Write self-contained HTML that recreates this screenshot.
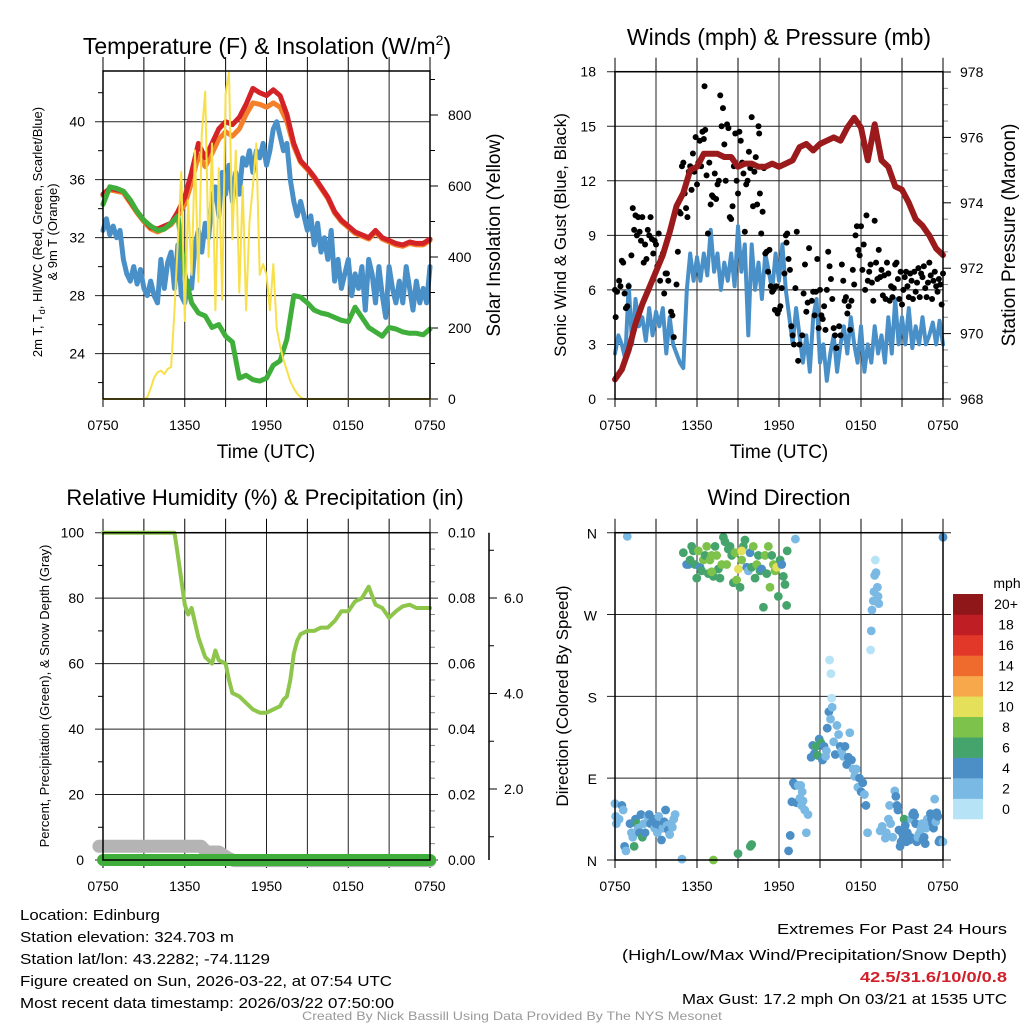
<!DOCTYPE html>
<html><head><meta charset="utf-8">
<style>
html,body{margin:0;padding:0;background:#fff;}
svg{display:block;font-family:"Liberation Sans",Arial,sans-serif;}
</style></head>
<body>
<svg id="root" width="1024" height="1024" viewBox="0 0 1024 1024" xmlns="http://www.w3.org/2000/svg">
<rect width="1024" height="1024" fill="#fff"/>
<g id="p1"></g>
<g id="p2"></g>
<g id="p3"></g>
<g id="p4"></g>
<g id="txt">
<text x="20" y="920" font-size="15" textLength="140" lengthAdjust="spacingAndGlyphs">Location: Edinburg</text>
<text x="20" y="942" font-size="15" textLength="214" lengthAdjust="spacingAndGlyphs">Station elevation: 324.703 m</text>
<text x="20" y="964" font-size="15" textLength="250" lengthAdjust="spacingAndGlyphs">Station lat/lon: 43.2282; -74.1129</text>
<text x="20" y="986" font-size="15" textLength="372" lengthAdjust="spacingAndGlyphs">Figure created on Sun, 2026-03-22, at 07:54 UTC</text>
<text x="20" y="1008" font-size="15" textLength="374" lengthAdjust="spacingAndGlyphs">Most recent data timestamp: 2026/03/22 07:50:00</text>
<text x="1007" y="934" font-size="15" text-anchor="end" textLength="230" lengthAdjust="spacingAndGlyphs">Extremes For Past 24 Hours</text>
<text x="1007" y="960" font-size="15" text-anchor="end" textLength="385" lengthAdjust="spacingAndGlyphs">(High/Low/Max Wind/Precipitation/Snow Depth)</text>
<text x="1007" y="982" font-size="15" font-weight="bold" fill="#d0202a" text-anchor="end" textLength="147" lengthAdjust="spacingAndGlyphs">42.5/31.6/10/0/0.8</text>
<text x="1007" y="1004" font-size="15" text-anchor="end" textLength="325" lengthAdjust="spacingAndGlyphs">Max Gust: 17.2 mph On 03/21 at 1535 UTC</text>
<text x="512" y="1020" font-size="12" fill="#999" text-anchor="middle" textLength="420" lengthAdjust="spacingAndGlyphs">Created By Nick Bassill Using Data Provided By The NYS Mesonet</text>
</g>
</svg>
<script>
// ---------- DATA ----------
const xTickLabels = ["0750","1350","1950","0150","0750"];
const tempTicks = [24,28,32,36,40];
const solarTicks = [0,200,400,600,800];
const windTicks = [0,3,6,9,12,15,18];
const presTicks = [968,970,972,974,976,978];
const rhTicks = [0,20,40,60,80,100];
const precipTickLabels = ["0.00","0.02","0.04","0.06","0.08","0.10"];
const snowTicks = [2,4,6];
const dirLabels = ["N","E","S","W","N"];
const speedBinLabels = ["0","2","4","6","8","10","12","14","16","18","20+"];
const speedColors = ["#b6e3f6","#7ab9e3","#4b8fc6","#45a46b","#7dc24a","#e4e05a","#f6a84a","#ef6a2d","#e1382a","#c01e25","#8f1719"];

// half-hourly (0..24h)
const temp2m = [35.0,35.4,35.3,35.2,34.5,33.8,33.2,32.7,32.6,32.8,33.0,33.8,34.8,36.5,38.5,37.5,38.5,39.5,40.0,39.8,40.3,41.2,42.3,42.0,41.8,42.2,41.8,40.5,38.5,37.3,36.8,36.2,35.5,34.8,33.8,33.2,32.8,32.4,32.2,32.0,32.5,32.0,31.8,31.6,31.5,31.7,31.6,31.6,31.9];
const temp9m = [34.9,35.3,35.2,35.1,34.4,33.7,33.1,32.6,32.4,32.6,32.9,33.5,34.3,35.8,37.7,36.9,37.8,38.8,39.3,39.0,39.5,40.5,41.3,41.2,41.0,41.3,41.0,40.0,38.3,37.2,36.7,36.1,35.4,34.7,33.7,33.1,32.7,32.3,32.1,31.9,32.4,31.9,31.7,31.5,31.4,31.6,31.5,31.5,31.8];
const dewpoint = [34.3,35.5,35.4,35.2,34.6,33.8,33.2,32.8,32.5,32.6,33.0,33.5,29.5,27.5,26.8,26.6,25.8,26.0,25.2,24.8,22.3,22.5,22.2,22.1,22.3,23.2,23.5,25.0,28.0,27.9,27.5,27.0,26.8,26.7,26.5,26.3,26.2,27.2,26.5,25.8,25.5,25.2,25.8,25.7,25.5,25.4,25.4,25.3,25.7];
// quarter-hourly (0..24h)
const windChill = [32.5,33.3,32.2,32.8,32.0,32.5,30.5,29.5,29.0,30.0,28.8,29.8,28.5,28.0,29.0,28.0,27.5,30.5,28.5,30.3,31.0,28.5,31.5,28.0,27.5,29.0,28.5,31.5,32.5,31.0,33.0,32.0,34.5,35.5,33.5,36.5,35.0,37.0,34.5,36.5,35.0,37.5,37.0,38.0,36.5,38.0,37.5,38.5,37.0,38.0,39.5,40.0,39.0,38.0,38.5,36.0,34.5,33.5,34.5,33.5,32.5,33.5,31.5,33.0,31.0,32.0,30.5,32.5,29.0,30.5,28.5,29.5,30.5,28.0,29.5,28.5,30.0,27.0,30.5,29.5,27.5,30.0,28.0,26.5,30.0,28.5,27.5,29.0,27.5,30.0,28.5,27.0,29.0,27.5,28.5,27.5,30.0];
const solar = [0,0,0,0,0,0,0,0,0,0,0,0,0,5,30,60,75,80,70,85,90,250,450,640,220,560,350,700,330,750,866,400,720,250,650,280,860,920,450,700,300,600,250,500,600,720,350,380,350,250,380,200,150,110,80,50,30,15,5,0,0,0,0,0,0,0,0,0,0,0,0,0,0,0,0,0,0,0,0,0,0,0,0,0,0,0,0,0,0,0,0,0,0,0,0,0,0];
const pressure = [968.6,968.9,969.5,970.3,970.9,971.4,971.9,972.4,973.1,973.9,974.3,975.0,975.1,975.5,975.5,975.5,975.4,975.4,975.1,975.2,975.2,975.1,975.1,975.2,975.1,975.2,975.3,975.7,975.8,975.6,975.8,975.9,976.0,975.9,976.3,976.6,976.3,975.3,976.4,975.3,975.1,974.5,974.4,974.0,973.5,973.3,973.0,972.6,972.4];
const sonicWind = [2.5,3.5,3.0,2.2,6.3,3.0,5.5,4.0,4.5,3.2,5.0,3.5,4.8,4.0,5.0,2.5,4.5,3.0,2.5,2.0,1.7,6.0,8.0,6.5,7.8,6.5,8.0,6.8,9.3,7.0,8.0,6.0,7.5,6.5,8.0,6.2,9.5,7.0,8.5,3.5,8.5,6.0,7.5,5.5,8.0,7.0,6.0,8.0,6.5,8.5,6.0,4.5,3.0,5.0,3.5,2.0,3.5,1.5,4.5,5.5,2.0,3.0,1.0,2.5,3.5,1.5,3.0,4.0,2.5,4.5,3.0,2.0,4.0,1.5,3.0,2.0,4.0,2.5,3.5,2.0,4.5,2.5,5.5,3.0,4.5,3.0,5.0,2.8,4.0,3.0,4.5,3.0,3.5,4.2,3.0,4.3,3.0];
const gustHours = [0.0,0.05,0.15,0.3,0.4,0.5,0.6,0.7,0.8,0.9,1.0,1.2,1.3,1.4,1.5,1.6,1.7,1.8,1.9,2.0,2.1,2.2,2.3,2.4,2.5,2.6,2.7,2.8,2.9,3.0,3.1,3.2,3.3,3.4,3.5,3.6,3.7,3.8,3.9,4.1,4.2,4.3,4.5,4.6,4.7,4.8,4.9,5.0,5.1,5.2,5.3,5.4,5.5,5.6,5.7,5.8,5.9,6.0,6.1,6.2,6.3,6.4,6.5,6.55,6.6,6.7,6.8,6.9,7.0,7.1,7.2,7.3,7.4,7.5,7.6,7.7,7.8,7.9,8.0,8.1,8.2,8.3,8.4,8.5,8.6,8.7,8.8,8.9,9.0,9.1,9.2,9.3,9.4,9.5,9.6,9.7,9.8,9.9,10.0,10.1,10.2,10.3,10.4,10.5,10.55,10.6,10.7,10.8,10.9,11.0,11.1,11.2,11.3,11.4,11.5,11.6,11.7,11.8,11.9,12.0,12.1,12.2,12.4,12.5,12.55,12.6,12.7,12.8,12.9,13.0,13.1,13.2,13.3,13.4,13.5,13.7,13.8,13.9,14.0,14.1,14.2,14.4,14.5,14.6,14.7,14.8,14.9,15.0,15.1,15.2,15.3,15.4,15.5,15.6,15.7,15.8,15.9,16.0,16.1,16.2,16.4,16.5,16.6,16.7,16.8,16.9,17.0,17.1,17.2,17.3,17.4,17.5,17.6,17.7,17.8,17.9,18.0,18.1,18.2,18.3,18.4,18.5,18.6,18.7,18.8,18.9,19.0,19.1,19.2,19.3,19.4,19.5,19.6,19.7,19.8,19.9,20.0,20.1,20.2,20.3,20.4,20.5,20.6,20.7,20.8,20.9,21.0,21.1,21.2,21.3,21.4,21.5,21.6,21.7,21.8,21.9,22.0,22.1,22.2,22.3,22.4,22.5,22.6,22.7,22.8,22.9,23.0,23.1,23.2,23.3,23.4,23.5,23.6,23.7,23.8,23.9,24.0];
const gustValues = [6.0,4.5,5.9,6.5,6.2,7.6,7.5,5.8,5.0,5.1,6.2,7.9,10.5,9.3,10.1,9.0,10.0,9.2,8.7,10.0,7.5,8.5,7.7,9.3,9.0,10.0,8.8,8.0,8.7,8.5,7.3,9.1,6.5,7.8,8.0,5.8,6.9,6.9,6.5,4.8,4.6,3.4,6.3,8.1,10.3,10.2,12.8,13.0,11.3,10.5,10.0,12.5,12.8,11.5,13.5,12.5,14.4,11.8,13.0,14.2,12.8,14.7,14.3,17.2,14.8,12.3,9.1,13.0,10.7,11.2,11.1,12.4,11.0,11.8,12.0,16.7,15.0,16.0,14.0,12.0,15.1,14.9,10.0,9.9,10.6,12.8,14.6,12.0,11.3,14.7,14.2,13.0,12.4,9.2,11.8,12.0,13.6,12.7,15.5,10.6,12.5,13.3,10.7,15.0,14.6,11.3,9.1,10.3,12.7,8.0,8.1,7.0,8.2,6.2,5.9,6.0,4.9,6.2,4.7,4.9,5.1,6.1,6.9,9.0,8.6,9.1,7.7,7.1,4.0,3.5,3.0,6.1,9.2,2.1,3.0,3.5,5.8,7.4,4.8,5.3,8.3,5.4,5.9,4.6,5.9,7.7,3.9,6.0,4.6,4.4,5.1,3.8,6.0,8.1,7.3,6.6,5.5,3.9,3.5,2.8,4.0,3.5,7.4,6.5,5.4,5.6,4.7,5.1,3.8,5.4,7.1,6.3,9.0,9.5,8.2,7.9,9.5,7.1,8.5,6.0,10.1,6.5,7.0,7.4,6.4,5.4,9.8,7.5,6.6,8.2,6.7,7.1,5.7,6.8,5.5,7.5,6.9,5.4,6.2,5.6,6.1,7.4,7.5,6.6,5.5,7.0,5.2,6.0,6.7,7.0,6.2,5.6,6.9,6.5,5.5,7.0,5.9,6.4,7.2,5.6,6.9,6.7,7.3,6.1,5.6,6.4,7.5,6.8,5.5,6.5,7.0,6.2,5.9,6.6,6.3,5.2,6.9];
const rhHours = [0,5.0,5.25,5.5,6.0,6.25,6.5,7.0,7.25,7.5,8.0,8.25,8.5,9.0,9.25,9.5,10.0,10.5,11.0,11.5,12.0,12.5,13.0,13.25,13.5,13.75,14.0,14.25,14.5,15.0,15.5,16.0,16.5,17.0,17.5,18.0,18.5,19.0,19.5,20.0,20.5,21.0,21.5,22.0,22.5,23.0,23.5,24.0];
const rhValues = [100,100,100,93,78,75,77,68,65,62,60,64,61,60,55,51,50,48,46,45,45,46,47,49,50,55,63,67,69,70,70,71,71,73,76,76,79,80,83.5,78,77,74,76,77.5,78,77,77,77];
const snowHours = [-0.3,7.2,7.6,8.5,9.2,9.6,10.5,11.0,11.3,24];
const snowDepth = [0.8,0.8,0.68,0.68,0.55,0.5,0.5,0.5,0.5,0.5];
const precipHours = [0,24];
const precipValues = [0,0];
const dirHours = [0.0,0.05,0.1,0.3,0.5,0.6,0.7,0.8,1.1,1.2,1.3,1.4,1.5,1.6,1.7,1.8,1.9,2.0,2.1,2.2,2.4,2.5,2.6,2.8,2.9,3.0,3.1,3.2,3.3,3.4,3.5,3.6,3.7,3.8,3.9,4.0,4.1,4.2,4.3,4.4,4.9,0.9,
5.0,5.24,5.37,5.49,5.61,5.73,5.85,5.98,6.1,6.22,6.34,6.46,6.59,6.71,6.83,6.95,7.07,7.2,7.32,7.44,7.56,7.68,7.81,7.93,8.05,8.17,8.29,8.42,8.54,8.66,8.78,8.9,9.03,9.15,9.27,9.39,9.51,9.64,9.76,9.88,10.0,10.12,10.25,10.37,10.49,10.61,10.73,10.86,10.98,11.1,11.22,11.34,11.47,11.59,11.71,11.83,11.95,12.08,12.2,12.32,12.44,12.56,12.6,9.27,7.07,
7.2,9.0,9.9,10.0,13.2,
12.7,12.82,12.94,13.05,13.17,13.29,13.41,13.53,13.59,13.64,13.7,13.76,13.88,14.0,14.12,14.35,14.47,14.59,14.71,14.83,14.94,15.06,15.18,15.3,15.41,15.47,15.53,15.65,15.77,15.89,16.0,16.12,16.24,16.36,16.48,16.59,16.71,16.83,16.95,17.07,17.18,17.3,17.42,17.54,17.66,17.77,17.89,18.01,18.13,18.25,18.36,18.48,15.7,15.8,15.85,18.7,18.75,18.8,18.9,18.95,19.0,19.05,19.1,19.2,19.25,19.3,
19.4,19.55,19.78,19.86,20.01,20.09,20.17,20.32,20.47,20.55,20.63,20.7,20.78,20.86,20.93,21.01,21.09,21.16,21.24,21.32,21.39,21.55,21.62,21.7,21.78,21.85,21.93,22.0,22.08,22.16,22.23,22.31,22.39,22.47,22.54,22.62,22.7,22.77,22.85,22.93,23.08,23.16,23.24,23.31,23.39,23.47,23.54,23.62,23.7,23.77,24.0,24.0];
const dirDegrees = [62,48,40,45,60,55,15,10,40,30,25,15,45,40,35,30,50,25,40,30,48,50,40,45,35,40,30,48,38,22,35,42,55,38,33,28,40,36,45,50,1,356,
338,325,325,330,345,340,325,310,340,322,318,330,335,345,315,330,335,312,345,335,320,310,325,355,350,325,342,345,335,305,338,308,320,300,330,345,352,322,318,338,322,345,310,325,335,318,320,278,335,315,345,300,335,325,318,322,290,330,325,312,303,280,340,340,317,
0,7,15,17,353,
10,27,64,85,82,63,82,68,82,60,75,65,55,30,50,113,126,117,125,115,133,129,110,125,114,120,145,163,155,168,130,116,148,138,125,120,114,125,105,113,140,110,100,92,100,80,90,75,85,72,60,30,220,205,178,231,252,275,285,295,313,330,316,300,290,282,
32,37,24,30,45,60,40,25,76,70,60,55,33,15,20,30,25,45,38,20,30,22,25,45,50,52,49,40,20,25,28,30,35,40,22,25,18,35,45,38,51,45,40,35,67,42,52,48,20,22,355,20];
const dirSpeeds = [3,3,3,3,5,3,5,3,5,3,3,7,5,7,3,5,5,7,3,5,3,5,5,5,3,5,3,3,5,5,3,5,5,3,5,3,3,3,3,3,3,3,
7,5,5,7,7,7,7,7,9,5,7,9,7,9,7,9,9,7,7,9,7,7,9,7,7,9,7,7,7,7,9,9,11,7,9,7,7,5,3,5,7,9,7,9,7,7,5,7,9,7,9,9,7,9,9,11,7,7,5,7,7,7,7,11,9,
9,7,7,7,3,
5,5,5,5,5,5,3,3,3,3,3,3,3,3,3,5,5,5,7,7,5,7,5,5,3,3,5,5,3,3,3,5,3,3,5,3,3,5,5,5,3,5,3,3,3,3,5,5,5,3,5,3,1,1,1,1,3,3,3,3,3,1,3,3,3,3,
3,3,3,3,3,3,3,3,3,5,5,5,5,5,5,5,5,7,5,5,5,5,5,3,5,5,5,5,5,3,3,3,3,3,5,5,5,3,3,3,5,5,5,5,3,3,5,5,5,5,5,3];

// ---------- DRAWING ----------
const NS = "http://www.w3.org/2000/svg";
function mk(parent, tag, attrs, text){
  const e = document.createElementNS(NS, tag);
  for (const k in attrs) e.setAttribute(k, attrs[k]);
  if (text !== undefined) e.textContent = text;
  parent.appendChild(e);
  return e;
}
function linScale(d0,d1,r0,r1){ return v => r0 + (v-d0)*(r1-r0)/(d1-d0); }
function pathD(xs, ys, sx, sy){ return xs.map((x,i)=>(i?"L":"M")+sx(x).toFixed(1)+","+sy(ys[i]).toFixed(1)).join(""); }
function seq(n, step){ const a=[]; for(let i=0;i<n;i++) a.push(i*step); return a; }
const halfHours = seq(49, 0.5);
const quarterHours = seq(97, 0.25);

function frame(g, L, R, T, B){
  const sx = linScale(0,24,L,R);
  for (let h=3; h<24; h+=3){
    const gl = mk(g,"line",{x1:sx(h),x2:sx(h),y1:T,y2:B,stroke:"#222","stroke-width":1});
    
    
  }
  for (let h=0; h<=24; h+=3){
    const t1 = mk(g,"line",{x1:sx(h),x2:sx(h),y1:T-14,y2:T,stroke:"#000","stroke-width":1});
    
    
    const t2 = mk(g,"line",{x1:sx(h),x2:sx(h),y1:B,y2:B+8,stroke:"#000","stroke-width":1});
    
    
  }
  xTickLabels.forEach((lab,i)=>{
    const t = mk(g,"text",{x:sx(i*6),y:B+31,"font-size":14,"text-anchor":"middle"},lab);
    
    
  });
  return sx;
}
function border(g,L,R,T,B){
  const r = mk(g,"rect",{x:L,y:T,width:R-L,height:B-T,fill:"none",stroke:"#000","stroke-width":1.5});
  
  
}
function hgrid(g,L,R,y,tickLeft,tickRight){
  const l = mk(g,"line",{x1:L-tickLeft,x2:R+tickRight,y1:y,y2:y,stroke:"#222","stroke-width":1});
  
  
}
function label(g,x,y,txt,size,anchor,name,rot){
  const a = {x:x,y:y,"font-size":size,"text-anchor":anchor||"middle"};
  if (rot) a.transform = "rotate(-90 "+x+" "+y+")";
  const t = mk(g,"text",a,txt);
  
  
  return t;
}
function line(g, d, color, w, name){
  const p = mk(g,"path",{d:d,fill:"none",stroke:color,"stroke-width":w,"stroke-linejoin":"round","stroke-linecap":"round"});
  
  
}

// Panel 1: temperature
(function(){
  const g = document.getElementById("p1");
  const L=103,R=430,T=71,B=399;
  const sx = frame(g,L,R,T,B);
  const sy = linScale(40,24,121.7,353.6);
  const ss = linScale(0,800,399,115);
  tempTicks.forEach(v=>{ hgrid(g,L,R,sy(v),8,0); label(g,85,sy(v)+5,String(v),14,"end","y-tick-label"); });
  [22,26,30,34,38,42].forEach(v=>{ const m=mk(g,"line",{x1:L-5,x2:L,y1:sy(v),y2:sy(v),stroke:"#000"});   });
  solarTicks.forEach(v=>{ const m=mk(g,"line",{x1:R,x2:R+8,y1:ss(v),y2:ss(v),stroke:"#000"});   label(g,448,ss(v)+5,String(v),14,"start","y2-tick-label"); });
  for (let v=100; v<=900; v+=200){ const m=mk(g,"line",{x1:R,x2:R+5,y1:ss(v),y2:ss(v),stroke:"#000"});   }
  const clip = mk(g,"clipPath",{id:"c1"}); mk(clip,"rect",{x:L-6,y:T,width:R-L+12,height:B-T+2});
  const cg = mk(g,"g",{"clip-path":"url(#c1)"});
  
  
  line(cg, pathD(quarterHours, windChill, sx, sy), "#4a90c8", 5, "windchill-line");
  line(cg, pathD(halfHours, dewpoint, sx, sy), "#3fae3a", 5, "dewpoint-line");
  line(cg, pathD(halfHours, temp9m, sx, sy), "#f4812a", 5, "temp-9m-line");
  line(cg, pathD(halfHours, temp2m, sx, sy), "#d42326", 5, "temp-2m-line");
  line(cg, pathD(halfHours.slice(0,12), dewpoint.slice(0,12), sx, sy), "#3fae3a", 5, "dewpoint-line-early");
  line(cg, pathD(quarterHours, solar, sx, ss), "#f7e04a", 2, "solar-line");
  border(g,L,R,T,B);
  const tt = mk(g,"text",{x:267,y:54,"font-size":23,"text-anchor":"middle"});
  
  
  tt.textContent = "Temperature (F) & Insolation (W/m";
  mk(tt,"tspan",{dy:-9,"font-size":14},"2");
  mk(tt,"tspan",{dy:9},")");
  label(g,266,458,"Time (UTC)",19,"middle","x-axis-title");
  const yl = mk(g,"text",{x:42,y:232,"font-size":13,"text-anchor":"middle",transform:"rotate(-90 42 232)"});
  
  
  yl.appendChild(document.createTextNode("2m T, T"));
  mk(yl,"tspan",{"font-size":9,dy:3},"d");
  mk(yl,"tspan",{dy:-3},", HI/WC (Red, Green, Scarlet/Blue)");
  label(g,57,232,"& 9m T (Orange)",13,"middle","y-axis-title-line2",true);
  label(g,500,235,"Solar Insolation (Yellow)",19,"middle","y2-axis-title",true);
})();

// Panel 2: winds
(function(){
  const g = document.getElementById("p2");
  const L=615,R=943,T=71.7,B=399;
  const sx = frame(g,L,R,T,B);
  const sy = linScale(0,18,399,71.7);
  const sp = linScale(968,978,399,72);
  windTicks.forEach(v=>{ hgrid(g,L,R,sy(v),8,0); label(g,596,sy(v)+5,String(v),14,"end","y-tick-label"); });
  presTicks.forEach(v=>{ const m=mk(g,"line",{x1:R,x2:R+8,y1:sp(v),y2:sp(v),stroke:"#000"});   label(g,960,sp(v)+5,String(v),14,"start","y2-tick-label"); });
  for (let v=968.5; v<978; v+=0.5){ if (v%2===0) continue; const m=mk(g,"line",{x1:R,x2:R+5,y1:sp(v),y2:sp(v),stroke:"#888"});   }
  const clip = mk(g,"clipPath",{id:"c2"}); mk(clip,"rect",{x:L-8,y:T-4,width:R-L+16,height:B-T+8});
  const cg = mk(g,"g",{"clip-path":"url(#c2)"});
  
  
  line(cg, pathD(quarterHours, sonicWind, sx, sy), "#4a90c8", 4, "sonic-wind-line");
  gustHours.forEach((h,i)=>{
    const c = mk(cg,"circle",{cx:sx(h),cy:sy(gustValues[i]),r:3,fill:"#000"});
    
    
  });
  line(cg, pathD(halfHours, pressure, sx, sp), "#9b1b1d", 6, "pressure-line");
  border(g,L,R,T,B);
  label(g,779,45,"Winds (mph) & Pressure (mb)",23,"middle","chart-title");
  label(g,779,458,"Time (UTC)",19,"middle","x-axis-title");
  label(g,566,235,"Sonic Wind & Gust (Blue, Black)",17,"middle","y-axis-title",true);
  label(g,1015,235,"Station Pressure (Maroon)",19,"middle","y2-axis-title",true);
})();

// Panel 3: humidity
(function(){
  const g = document.getElementById("p3");
  const L=103,R=430,T=532.7,B=860;
  const sx = frame(g,L,R,T,B);
  const sy = linScale(0,100,860,532.7);
  const ssn = linScale(0,2,884.5,789);
  rhTicks.forEach((v,i)=>{
    hgrid(g,L,R,sy(v),8,8);
    label(g,84,sy(v)+5,String(v),14,"end","y-tick-label");
    label(g,448,sy(v)+5,precipTickLabels[i],14,"start","y2-tick-label");
  });
  for (let v=10; v<100; v+=20){ const m=mk(g,"line",{x1:L-5,x2:L,y1:sy(v),y2:sy(v),stroke:"#000"});   }
  for (let v=5; v<100; v+=5){ if (v%20===0) continue; const m=mk(g,"line",{x1:R,x2:R+5,y1:sy(v),y2:sy(v),stroke:"#888"});   }
  const ax = mk(g,"line",{x1:489,x2:489,y1:T,y2:B,stroke:"#000","stroke-width":1.5});
  
  
  snowTicks.forEach(v=>{ const m=mk(g,"line",{x1:489,x2:497,y1:ssn(v),y2:ssn(v),stroke:"#000"});   label(g,504,ssn(v)+5,v.toFixed(1),14,"start","snow-tick-label"); });
  for (let v=1; v<=7; v+=2){ const yy=ssn(v); if (yy<T) continue; const m=mk(g,"line",{x1:489,x2:494,y1:yy,y2:yy,stroke:"#000"});   }
  line(g, pathD(snowHours, snowDepth, linScale(0,24,L,R), ssn), "#b4b4b4", 13, "snow-depth-line");
  line(g, pathD(rhHours, rhValues, sx, sy), "#8dc64b", 4, "rh-line");
  line(g, pathD(precipHours, precipValues, sx, linScale(0,0.1,860,532.7)), "#3fae3a", 12, "precip-line");
  border(g,L,R,T,B);
  label(g,265,505,"Relative Humidity (%) & Precipitation (in)",22,"middle","chart-title");
  label(g,49,696,"Percent, Precipitation (Green), & Snow Depth (Gray)",13,"middle","y-axis-title",true);
})();

// Panel 4: wind direction
(function(){
  const g = document.getElementById("p4");
  const L=615,R=943,T=532.7,B=860;
  const sx = frame(g,L,R,T,B);
  const sy = linScale(0,360,860,532.7);
  dirLabels.forEach((lab,i)=>{ hgrid(g,L,R,sy(i*90),8,8); label(g,597,sy(i*90)+6,lab,14,"end","y-tick-label"); });
  function binOf(s){ return Math.max(0, Math.min(10, Math.floor(s/2))); }
  dirHours.forEach((h,i)=>{
    const c = mk(g,"circle",{cx:sx(h),cy:sy(dirDegrees[i]),r:4.4,fill:speedColors[binOf(dirSpeeds[i])]});
    
    
  });
  border(g,L,R,T,B);
  label(g,779,505,"Wind Direction",22,"middle","chart-title");
  label(g,568,696,"Direction (Colored By Speed)",17,"middle","y-axis-title",true);
  const cb = mk(g,"g",{});
  
  
  const top=594, bot=819, h=(bot-top)/11;
  speedColors.forEach((c,i)=>{
    const r = mk(cb,"rect",{x:953,y:bot-(i+1)*h,width:30,height:h+0.3,fill:c});
    
    
    label(cb,1006,bot-(i+0.5)*h+5,speedBinLabels[i],14,"middle","colorbar-label");
  });
  label(cb,1007,588,"mph",14,"middle","colorbar-title");
})();
</script>
</body></html>
